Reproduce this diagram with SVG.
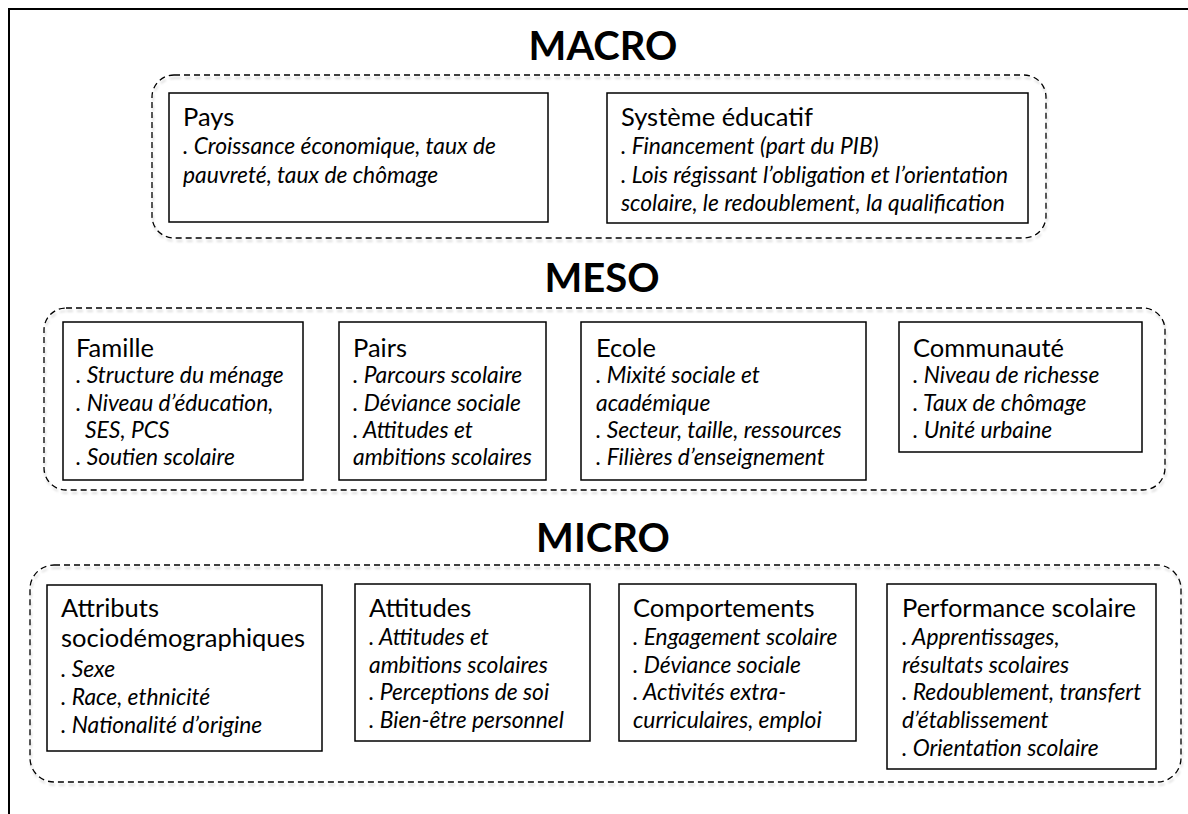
<svg xmlns="http://www.w3.org/2000/svg" width="1188" height="814" viewBox="0 0 1188 814">
<style>
.frame{fill:none;stroke:#000;stroke-width:2}
.level{fill:none;stroke:#000;stroke-width:1.3;stroke-dasharray:6 4;filter:url(#sh)}
.box{fill:#fff;stroke:#000;stroke-width:1.5}
.title{font-family:Lato,"Liberation Sans",sans-serif;font-weight:bold;font-size:40px;text-anchor:middle;fill:#000}
.h{font-family:Lato,"Liberation Sans",sans-serif;font-size:25.5px;fill:#000}
.i{font-family:Lato,"Liberation Sans",sans-serif;font-size:22.8px;font-style:italic;fill:#000}
</style>
<defs>
<filter id="sh" x="-5%" y="-10%" width="110%" height="125%">
<feDropShadow dx="1" dy="3" stdDeviation="1.2" flood-color="#000" flood-opacity="0.18"/>
</filter>
</defs>
<path class="frame" d="M9,814 V9 H1188"/>
<g id="connectors"></g>

<g id="macro">
<text class="title" x="603" y="60">MACRO</text>
<rect class="level" x="152" y="75" width="894" height="163" rx="22"/>
</g>
<g id="pays">
<rect class="box" x="169" y="93" width="379" height="129"/>
<text class="h" x="183" y="126">Pays</text>
<text class="i" x="183" y="154">. Croissance économique, taux de</text>
<text class="i" x="183" y="182.5">pauvreté, taux de chômage</text>
</g>
<g id="systeme">
<rect class="box" x="607" y="93" width="421" height="130"/>
<text class="h" x="621" y="126">Système éducatif</text>
<text class="i" x="621" y="154">. Financement (part du PIB)</text>
<text class="i" x="621" y="182.5">. Lois régissant l’obligation et l’orientation</text>
<text class="i" x="621" y="211">scolaire, le redoublement, la qualification</text>
</g>

<g id="meso">
<text class="title" x="602" y="292">MESO</text>
<rect class="level" x="44" y="308" width="1121" height="182" rx="22"/>
</g>
<g id="famille">
<rect class="box" x="63" y="322" width="240" height="158"/>
<text class="h" x="76" y="357">Famille</text>
<text class="i" x="76" y="383">. Structure du ménage</text>
<text class="i" x="76" y="411">. Niveau d’éducation,</text>
<text class="i" x="85" y="438">SES, PCS</text>
<text class="i" x="76" y="465">. Soutien scolaire</text>
</g>
<g id="pairs">
<rect class="box" x="339" y="322" width="207" height="158"/>
<text class="h" x="353" y="357">Pairs</text>
<text class="i" x="353" y="383">. Parcours scolaire</text>
<text class="i" x="353" y="411">. Déviance sociale</text>
<text class="i" x="353" y="438">. Attitudes et</text>
<text class="i" x="353" y="465">ambitions scolaires</text>
</g>
<g id="ecole">
<rect class="box" x="581" y="322" width="285" height="158"/>
<text class="h" x="596" y="357">Ecole</text>
<text class="i" x="596" y="383">. Mixité sociale et</text>
<text class="i" x="596" y="411">académique</text>
<text class="i" x="596" y="438">. Secteur, taille, ressources</text>
<text class="i" x="596" y="465">. Filières d’enseignement</text>
</g>
<g id="communaute">
<rect class="box" x="899" y="322" width="243" height="130"/>
<text class="h" x="913" y="357">Communauté</text>
<text class="i" x="913" y="383">. Niveau de richesse</text>
<text class="i" x="913" y="411">. Taux de chômage</text>
<text class="i" x="913" y="438">. Unité urbaine</text>
</g>

<g id="micro">
<text class="title" x="603" y="552">MICRO</text>
<rect class="level" x="30" y="565" width="1151" height="217" rx="24"/>
</g>
<g id="attributs">
<rect class="box" x="47" y="585" width="275" height="166"/>
<text class="h" x="61" y="617">Attributs</text>
<text class="h" x="61" y="647">sociodémographiques</text>
<text class="i" x="61" y="677">. Sexe</text>
<text class="i" x="61" y="705">. Race, ethnicité</text>
<text class="i" x="61" y="733">. Nationalité d’origine</text>
</g>
<g id="attitudes">
<rect class="box" x="355" y="584" width="235" height="157"/>
<text class="h" x="369" y="617">Attitudes</text>
<text class="i" x="369" y="645">. Attitudes et</text>
<text class="i" x="369" y="673">ambitions scolaires</text>
<text class="i" x="369" y="700">. Perceptions de soi</text>
<text class="i" x="369" y="728">. Bien-être personnel</text>
</g>
<g id="comportements">
<rect class="box" x="619" y="584" width="237" height="157"/>
<text class="h" x="633" y="617">Comportements</text>
<text class="i" x="633" y="645">. Engagement scolaire</text>
<text class="i" x="633" y="673">. Déviance sociale</text>
<text class="i" x="633" y="700">. Activités extra-</text>
<text class="i" x="633" y="728">curriculaires, emploi</text>
</g>
<g id="performance">
<rect class="box" x="887" y="584" width="269" height="185"/>
<text class="h" x="902" y="617">Performance scolaire</text>
<text class="i" x="902" y="645">. Apprentissages,</text>
<text class="i" x="902" y="673">résultats scolaires</text>
<text class="i" x="902" y="700">. Redoublement, transfert</text>
<text class="i" x="902" y="728">d’établissement</text>
<text class="i" x="902" y="756">. Orientation scolaire</text>
</g>
</svg>
